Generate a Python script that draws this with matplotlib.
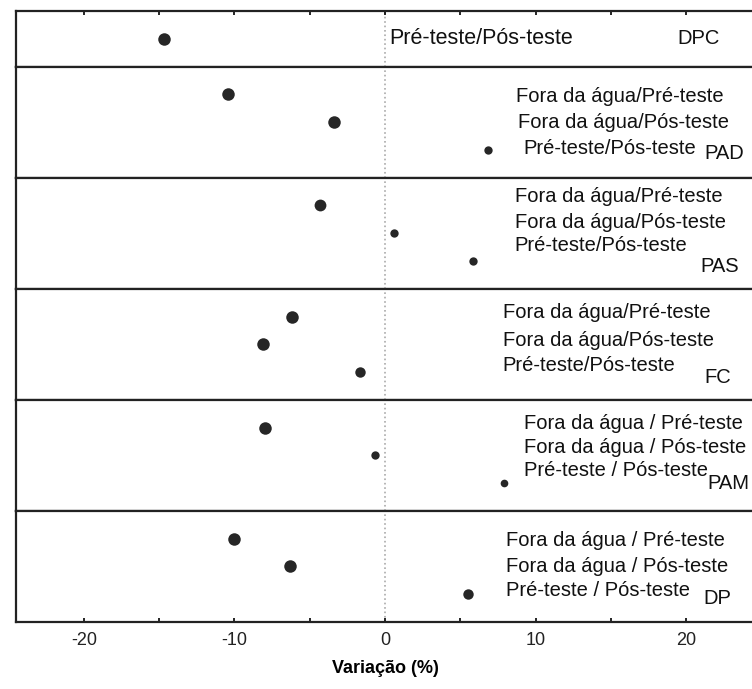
import matplotlib
matplotlib.use("Agg")
import matplotlib.pyplot as plt

plt.rcParams['font.family'] = ['Liberation Sans', 'DejaVu Sans']

# variables (one panel each, top to bottom)
panels = ['DPC', 'PAD', 'PAS', 'FC', 'PAM', 'DP']

# variation (%) per comparison
dpc = [-14.7]
pad = [-10.4, -3.4, 6.8]
pas = [-4.3, 0.6, 5.8]
fc = [-6.2, -8.1, -1.7]
pam = [-8.0, -0.7, 7.9]
dp = [-10.0, -6.3, 5.5]
values = [dpc, pad, pas, fc, pam, dp]

# comparison labels
lab_slash = ['Fora da água/Pré-teste', 'Fora da água/Pós-teste', 'Pré-teste/Pós-teste']
lab_space = ['Fora da água / Pré-teste', 'Fora da água / Pós-teste', 'Pré-teste / Pós-teste']
labels = [['Pré-teste/Pós-teste'], lab_slash, lab_slash, lab_slash, lab_space, lab_space]

xticks = [-20, -10, 0, 10, 20]

# marker sizes (big / small dots as in the original)
msizes = [[9], [9, 9, 6], [8.5, 6, 6], [9, 9, 7.5], [9, 6, 5.5], [9, 9, 7.5]]

# text layout: x of labels, y rows of labels, (x, y) of the panel name
txt_x = [[0.3], [8.7, 8.8, 9.2], [8.6, 8.6, 8.6], [7.8, 7.8, 7.8], [9.2, 9.2, 9.2], [8.0, 8.0, 8.0]]
txt_y = [[1.0], [1.09, 2.0, 2.95], [0.68, 1.61, 2.46], [0.87, 1.85, 2.76], [0.86, 1.73, 2.56], [1.07, 2.0, 2.86]]
txt_size = [15.5, 14.5, 14.5, 14.5, 14.5, 14.5]
name_pos = [(19.4, 1.0), (21.2, 3.12), (20.9, 3.2), (21.2, 3.2), (21.4, 3.0), (21.1, 3.14)]

fig = plt.figure(figsize=(7.52, 6.89), dpi=100)
gs = fig.add_gridspec(6, 1, height_ratios=[0.5, 1, 1, 1, 1, 1], hspace=0,
                      left=16 / 752, right=1.003, top=1 - 11 / 689, bottom=1 - 622 / 689)

dot_color = '#262626'
for i, name in enumerate(panels):
    ax = fig.add_subplot(gs[i])
    vals = values[i]
    n = len(vals)
    rows = list(range(1, n + 1))
    for v, r, ms in zip(vals, rows, msizes[i]):
        ax.plot(v, r, 'o', color=dot_color, markersize=ms, markeredgewidth=0)
    ax.axvline(0, color='#aaaaaa', linestyle=':', linewidth=1.2, zorder=0)
    ax.set_xlim(-24.5, 24.5)
    ax.set_ylim(n + 1, 0)
    ax.set_yticks([])
    for lab, tx, ty in zip(labels[i], txt_x[i], txt_y[i]):
        ax.text(tx, ty, lab, fontsize=txt_size[i], va='center', ha='left', color='#111111')
    nx, ny = name_pos[i]
    ax.text(nx, ny, name, fontsize=14.5, va='center', ha='left', color='#111111')
    for sp in ax.spines.values():
        sp.set_linewidth(1.6)
        sp.set_color('#222222')
    ax.set_xticks(range(-20, 21, 5))
    ax.tick_params(axis='x', direction='in', length=3, width=1.2, top=(i == 0),
                   bottom=(i == len(panels) - 1), labelbottom=False, labeltop=False)
    if i == len(panels) - 1:
        ax.set_xticks(xticks, labels=[str(t) for t in xticks])
        ax.set_xticks(range(-20, 21, 5), minor=True)
        ax.tick_params(axis='x', which='minor', direction='in', length=3, width=1.2)
        ax.tick_params(axis='x', labelbottom=True, labelsize=13, pad=7, labelcolor='#222222')
        ax.set_xlabel('Variação (%)', fontsize=13, fontweight='bold', labelpad=8)

fig.savefig('out.png', dpi=100)
